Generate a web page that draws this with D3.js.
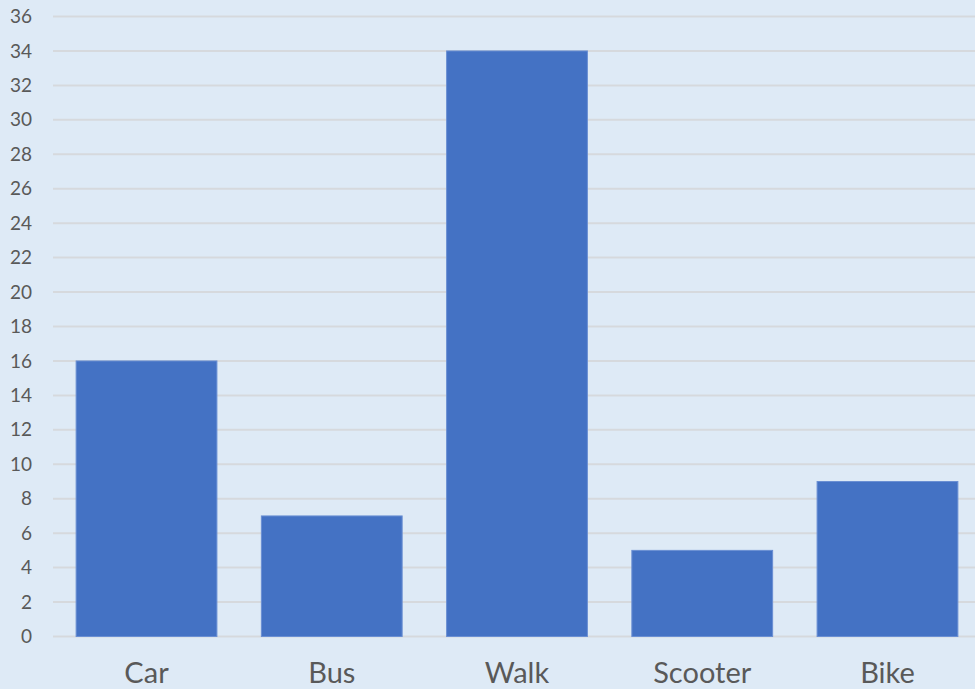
<!DOCTYPE html>
<html>
<head>
<meta charset="utf-8">
<script src="https://cdn.jsdelivr.net/npm/d3@7"></script>
<style>
  html, body { margin: 0; padding: 0; background: #deeaf6; overflow: hidden; }
  svg { display: block; }
</style>
</head>
<body>
<svg id="chart" width="975" height="689"></svg>
<script>
// How pupils travel to school
const categories = ["Car", "Bus", "Walk", "Scooter", "Bike"];
const counts = [16, 7, 34, 5, 9];
const yTicks = d3.range(0, 37, 2);

const width = 975, height = 689;
const svg = d3.select("#chart");

svg.append("rect").attr("width", width).attr("height", height).attr("fill", "#deeaf6");

const x = d3.scaleBand()
  .domain(categories)
  .range([53.9, 980.1])
  .paddingInner(0.24)
  .paddingOuter(0.12);

const y = d3.scaleLinear()
  .domain([0, 36])
  .range([636.5, 16.5]);

// horizontal gridlines
svg.append("g")
  .selectAll("line")
  .data(yTicks)
  .join("line")
  .attr("x1", 53)
  .attr("x2", width)
  .attr("y1", d => y(d))
  .attr("y2", d => y(d))
  .attr("stroke", "#d6d9dd")
  .attr("stroke-width", 2);

// y-axis labels
const yAxis = d3.axisLeft(y).tickValues(yTicks).tickSize(0).tickPadding(0);
const yg = svg.append("g").attr("transform", "translate(32,0)").call(yAxis);
yg.select(".domain").remove();
yg.selectAll("text")
  .attr("font-family", "Lato, 'Open Sans', sans-serif")
  .attr("font-size", 19)
  .attr("fill", "#595959");

// bars
svg.append("g")
  .selectAll("rect")
  .data(categories.map((c, i) => ({ c, v: counts[i] })))
  .join("rect")
  .attr("x", d => x(d.c))
  .attr("width", x.bandwidth())
  .attr("y", d => y(d.v))
  .attr("height", d => y(0) - y(d.v))
  .attr("fill", "#4472c4")
  .attr("stroke", "#6a8fd3")
  .attr("stroke-width", 1);

// category labels
const xAxis = d3.axisBottom(x).tickSize(0).tickPadding(0);
const xg = svg.append("g").call(xAxis);
xg.select(".domain").remove();
xg.selectAll("text")
  .attr("y", 683)
  .attr("dy", null)
  .attr("font-family", "Lato, 'Open Sans', sans-serif")
  .attr("font-size", 29)
  .attr("fill", "#595959");
</script>
</body>
</html>
